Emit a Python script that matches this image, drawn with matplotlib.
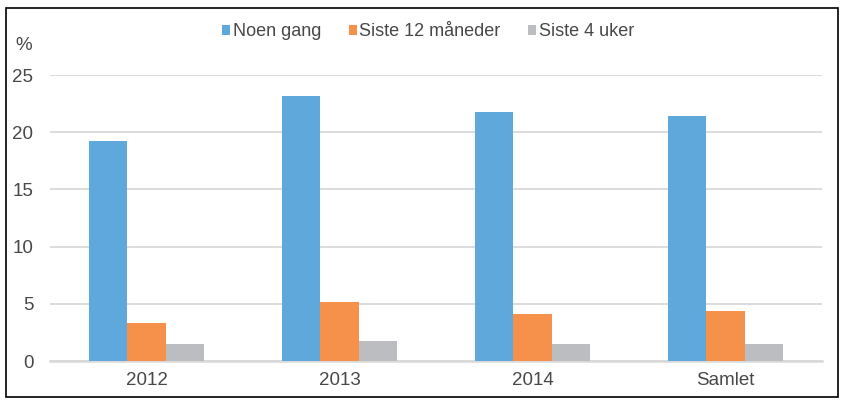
import numpy as np
import matplotlib.pyplot as plt
from matplotlib.patches import Rectangle

kategorier = ['2012', '2013', '2014', 'Samlet']
noen_gang = [19.2, 23.2, 21.8, 21.4]
siste_12_mnd = [3.3, 5.15, 4.15, 4.35]
siste_4_uker = [1.5, 1.75, 1.5, 1.5]
serier = ['Noen gang', 'Siste 12 måneder', 'Siste 4 uker']
farger = ['#5fa8dc', '#f5914a', '#bcbdc0']
yticks = [0, 5, 10, 15, 20, 25]

plt.rcParams['font.family'] = ['Liberation Sans', 'DejaVu Sans']
tekstfarge = '#484848'

fig = plt.figure(figsize=(8.51, 4.15), dpi=100)
ax = fig.add_axes([50/851, 1-361/415, 772/851, (361-75)/415])

x = np.arange(len(kategorier))
b = 0.2
for i, (verdier, navn, f) in enumerate(zip([noen_gang, siste_12_mnd, siste_4_uker], serier, farger)):
    ax.bar(x + (i - 1) * b, verdier, b, color=f, label=navn, zorder=3)

ax.set_xlim(-0.5, len(kategorier) - 0.5)
ax.set_ylim(0, 25)
ax.set_yticks(yticks)
ax.set_xticks(x)
ax.set_xticklabels(kategorier)
ax.tick_params(axis='both', length=0, labelsize=13.5, colors=tekstfarge)
ax.tick_params(axis='y', pad=12)
ax.tick_params(axis='x', pad=8)
ax.grid(axis='y', color='#d9d9d9', linewidth=1.3, zorder=0)
for s in ['top', 'right', 'left']:
    ax.spines[s].set_visible(False)
ax.spines['bottom'].set_color('#d9d9d9')
ax.spines['bottom'].set_linewidth(1.8)

fig.text(15/851, 1-46/415, '%', fontsize=13.5, color=tekstfarge, va='center', ha='left')

leg = fig.legend(loc='center', bbox_to_anchor=(428/851, 1-32/415), ncol=3, frameon=False,
                 fontsize=13, handlelength=0.45, handleheight=0.45, handletextpad=0.15,
                 columnspacing=1.5, labelcolor=tekstfarge)

fig.patches.append(Rectangle((6/851, 1-397/415), 832/851, 389/415, transform=fig.transFigure,
                             fill=False, edgecolor='black', linewidth=1.2))

fig.savefig('out.png', dpi=100)
